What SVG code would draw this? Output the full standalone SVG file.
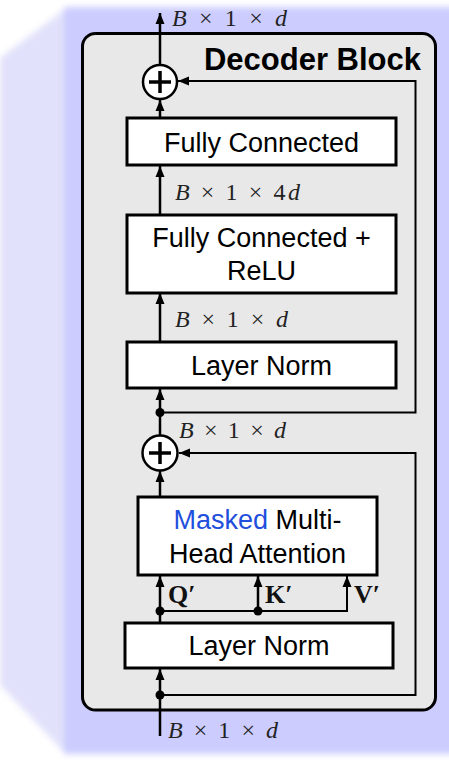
<svg xmlns="http://www.w3.org/2000/svg" width="449" height="760" viewBox="0 0 449 760">
<defs>
<filter id="soft" x="-10%" y="-10%" width="120%" height="120%"><feGaussianBlur stdDeviation="3"/></filter>
<marker id="ah" markerUnits="userSpaceOnUse" markerWidth="12" markerHeight="12" viewBox="0 0 12 12" refX="11" refY="6" orient="auto"><path d="M0,1.5 L11,6 L0,10.5 Z" fill="#000"/></marker>
<style>
.box{fill:#fff;stroke:#000;stroke-width:3}
.lbl{font-family:"Liberation Sans",Arial,sans-serif;font-size:27px;fill:#000;text-anchor:middle}
.math{font-family:"Liberation Serif","Times New Roman",serif;font-size:24px;fill:#222}
.it{font-style:italic}
.qkv{font-family:"Liberation Serif","Times New Roman",serif;font-size:26px;font-weight:bold;fill:#111}
.ln{fill:none;stroke:#000;stroke-width:2.5}
.ln2{fill:none;stroke:#000;stroke-width:2}
.dot{fill:#000}
.sum{fill:#fff;stroke:#000;stroke-width:2.5}
.plus{stroke:#000;stroke-width:3.5}
</style>
</defs>
<g id="background" filter="url(#soft)">
<polygon points="0,58 64,10 64,752 0,685" fill="#e1e1fb"/>
<rect x="64" y="7" width="400" height="747" fill="#ccccff"/>
</g>
<g id="decoder-block">
<rect x="82.5" y="33.5" width="353" height="676.5" rx="13" fill="#e8e8e8" stroke="#000" stroke-width="3"/>
<text x="421" y="70" font-family="Liberation Sans,Arial,sans-serif" font-size="31" font-weight="bold" text-anchor="end">Decoder Block</text>
</g>
<g id="connectors">
<line class="ln" x1="160" y1="65" x2="160" y2="13" marker-end="url(#ah)"/>
<line class="ln" x1="160" y1="118" x2="160" y2="100" marker-end="url(#ah)"/>
<line class="ln" x1="160" y1="215" x2="160" y2="166" marker-end="url(#ah)"/>
<line class="ln" x1="160" y1="342" x2="160" y2="293" marker-end="url(#ah)"/>
<line class="ln" x1="160" y1="435" x2="160" y2="389" marker-end="url(#ah)"/>
<polyline class="ln2" points="160,412.5 415.5,412.5 415.5,81 178,81" marker-end="url(#ah)"/>
<circle class="dot" cx="160" cy="412.5" r="4.5"/>
<line class="ln" x1="160" y1="497" x2="160" y2="471" marker-end="url(#ah)"/>
<line class="ln" x1="160" y1="623" x2="160" y2="576" marker-end="url(#ah)"/>
<line class="ln" x1="258" y1="611" x2="258" y2="576" marker-end="url(#ah)"/>
<polyline class="ln2" points="160,611 347,611 347,576" marker-end="url(#ah)"/>
<circle class="dot" cx="160" cy="611" r="4.5"/>
<circle class="dot" cx="258" cy="611" r="4.5"/>
<line class="ln" x1="160" y1="736" x2="160" y2="669" marker-end="url(#ah)"/>
<polyline class="ln2" points="160,695 415.5,695 415.5,453 179,453" marker-end="url(#ah)"/>
<circle class="dot" cx="160" cy="695" r="4.5"/>
<text class="math" x="172" y="26" textLength="115" lengthAdjust="spacing"><tspan class="it">B</tspan> × 1 × <tspan class="it">d</tspan></text>
<text class="math" x="175" y="200" textLength="125" lengthAdjust="spacing"><tspan class="it">B</tspan> × 1 × 4<tspan class="it">d</tspan></text>
<text class="math" x="175" y="327" textLength="113" lengthAdjust="spacing"><tspan class="it">B</tspan> × 1 × <tspan class="it">d</tspan></text>
<text class="math" x="179" y="438" textLength="107" lengthAdjust="spacing"><tspan class="it">B</tspan> × 1 × <tspan class="it">d</tspan></text>
<text class="math" x="168" y="738" textLength="110" lengthAdjust="spacing"><tspan class="it">B</tspan> × 1 × <tspan class="it">d</tspan></text>
<text class="qkv" x="168" y="603">Q′</text>
<text class="qkv" x="265" y="603">K′</text>
<text class="qkv" x="354" y="603">V′</text>
</g>
<g id="add-top">
<circle class="sum" cx="160" cy="82" r="17"/>
<line class="plus" x1="149" y1="82" x2="171" y2="82"/>
<line class="plus" x1="160" y1="71" x2="160" y2="93"/>
</g>
<g id="add-bottom">
<circle class="sum" cx="160" cy="453" r="17.5"/>
<line class="plus" x1="149" y1="453" x2="171" y2="453"/>
<line class="plus" x1="160" y1="442" x2="160" y2="464"/>
</g>
<g id="fully-connected">
<rect class="box" x="127" y="118" width="269" height="47"/>
<text class="lbl" x="261.5" y="152">Fully Connected</text>
</g>
<g id="fc-relu">
<rect class="box" x="127" y="215" width="269" height="78"/>
<text class="lbl" x="261.5" y="247">Fully Connected +</text>
<text class="lbl" x="261.5" y="280">ReLU</text>
</g>
<g id="layer-norm-1">
<rect class="box" x="127" y="342" width="269" height="46"/>
<text class="lbl" x="261.5" y="375">Layer Norm</text>
</g>
<g id="masked-mha">
<rect class="box" x="138" y="497" width="239" height="78"/>
<text class="lbl" x="257.5" y="529"><tspan fill="#1f4fdc">Masked</tspan> Multi-</text>
<text class="lbl" x="257.5" y="563">Head Attention</text>
</g>
<g id="layer-norm-2">
<rect class="box" x="125" y="623" width="268" height="45"/>
<text class="lbl" x="259" y="655">Layer Norm</text>
</g>
</svg>
